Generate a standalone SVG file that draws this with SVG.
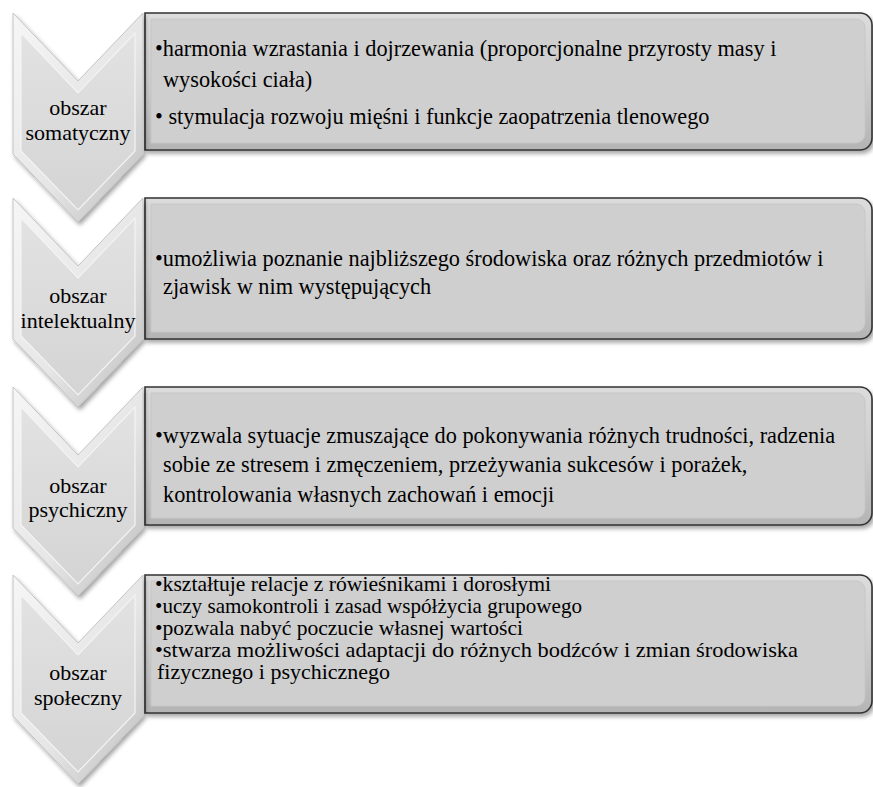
<svg xmlns="http://www.w3.org/2000/svg" width="873" height="787" viewBox="0 0 873 787">
<defs>
<linearGradient id="chevOuter" x1="0" y1="0" x2="1" y2="1">
<stop offset="0" stop-color="#f6f6f6"/>
<stop offset="0.55" stop-color="#e6e6e6"/>
<stop offset="1" stop-color="#bdbdbd"/>
</linearGradient>
<linearGradient id="chevInner" x1="0" y1="0" x2="0" y2="1">
<stop offset="0" stop-color="#e2e2e2"/>
<stop offset="1" stop-color="#d4d4d4"/>
</linearGradient>
<linearGradient id="boxOuter" x1="0" y1="0" x2="0" y2="1">
<stop offset="0" stop-color="#dcdcdc"/>
<stop offset="0.5" stop-color="#cdcdcd"/>
<stop offset="1" stop-color="#b4b4b4"/>
</linearGradient>
<filter id="shadow" x="-5%" y="-5%" width="115%" height="125%">
<feDropShadow dx="2" dy="3" stdDeviation="2" flood-color="#000" flood-opacity="0.35"/>
</filter>
<polygon id="chev" points="13,0 78,68 143,0 143,141 78,209 13,141"/>
<polygon id="chevIn" points="21,20 78,80 135,20 135,138 78,197 21,138"/>
</defs>
<style>
.cho{fill:url(#chevOuter);stroke:#c4c4c4;stroke-width:1;filter:url(#shadow)}
.chi{fill:url(#chevInner);stroke:#f4f4f4;stroke-width:1.2}
.bo{fill:url(#boxOuter);stroke:#333;stroke-width:1.6;filter:url(#shadow)}
.bi{fill:#cfcfcf;stroke:#c6c6c6;stroke-width:1}
.lab{font-family:"Liberation Serif","Times New Roman",serif;font-size:22px;fill:#000;text-anchor:middle}
.txt{font-family:"Liberation Serif","Times New Roman",serif;font-size:22.3px;fill:#000}
.sm{font-size:21px}
</style>
<rect width="873" height="787" fill="#fff"/>
<g id="connectors"></g>

<g id="box1">
<path class="bo" d="M145,13 H860 A12,12 0 0 1 872,25 V138 A12,12 0 0 1 860,150 H145 Z"/>
<path class="bi" d="M151,19 H856 A9,9 0 0 1 865,28 V134 A9,9 0 0 1 856,143 H151 Z"/>
<text class="txt" x="155" y="56">•harmonia wzrastania i dojrzewania (proporcjonalne przyrosty masy i</text>
<text class="txt" x="163" y="87">wysokości ciała)</text>
<text class="txt" x="155" y="124">• stymulacja rozwoju mięśni i funkcje zaopatrzenia tlenowego</text>
</g>
<g id="chevron1" transform="translate(0,13)">
<use href="#chev" class="cho"/>
<use href="#chevIn" class="chi"/>
<text class="lab" x="78" y="102">obszar</text>
<text class="lab" x="78" y="127">somatyczny</text>
</g>

<g id="box2">
<path class="bo" d="M145,198 H860 A12,12 0 0 1 872,210 V327 A12,12 0 0 1 860,339 H145 Z"/>
<path class="bi" d="M151,204 H856 A9,9 0 0 1 865,213 V323 A9,9 0 0 1 856,332 H151 Z"/>
<text class="txt" x="155" y="266">•umożliwia poznanie najbliższego środowiska oraz różnych przedmiotów i</text>
<text class="txt" x="163" y="294">zjawisk w nim występujących</text>
</g>
<g id="chevron2" transform="translate(0,198)">
<use href="#chev" class="cho"/>
<use href="#chevIn" class="chi"/>
<text class="lab" x="78" y="105">obszar</text>
<text class="lab" x="78" y="130">intelektualny</text>
</g>

<g id="box3">
<path class="bo" d="M145,387 H860 A12,12 0 0 1 872,399 V513 A12,12 0 0 1 860,525 H145 Z"/>
<path class="bi" d="M151,393 H856 A9,9 0 0 1 865,402 V509 A9,9 0 0 1 856,518 H151 Z"/>
<text class="txt" x="155" y="443">•wyzwala sytuacje zmuszające do pokonywania różnych trudności, radzenia</text>
<text class="txt" x="163" y="472">sobie ze stresem i zmęczeniem, przeżywania sukcesów i porażek,</text>
<text class="txt" x="163" y="502">kontrolowania własnych zachowań i emocji</text>
</g>
<g id="chevron3" transform="translate(0,387)">
<use href="#chev" class="cho"/>
<use href="#chevIn" class="chi"/>
<text class="lab" x="78" y="106">obszar</text>
<text class="lab" x="78" y="130">psychiczny</text>
</g>

<g id="box4">
<path class="bo" d="M145,575 H860 A12,12 0 0 1 872,587 V701 A12,12 0 0 1 860,713 H145 Z"/>
<path class="bi" d="M151,581 H856 A9,9 0 0 1 865,590 V697 A9,9 0 0 1 856,706 H151 Z"/>
<text class="txt sm" x="155" y="591" textLength="396" lengthAdjust="spacingAndGlyphs">•kształtuje relacje z rówieśnikami i dorosłymi</text>
<text class="txt sm" x="155" y="613" textLength="427" lengthAdjust="spacingAndGlyphs">•uczy samokontroli i zasad współżycia grupowego</text>
<text class="txt sm" x="155" y="635" textLength="368" lengthAdjust="spacingAndGlyphs">•pozwala nabyć poczucie własnej wartości</text>
<text class="txt sm" x="155" y="657" textLength="643" lengthAdjust="spacingAndGlyphs">•stwarza możliwości adaptacji do różnych bodźców i zmian środowiska</text>
<text class="txt sm" x="157" y="679" textLength="233" lengthAdjust="spacingAndGlyphs">fizycznego i psychicznego</text>
</g>
<g id="chevron4" transform="translate(0,575)">
<use href="#chev" class="cho"/>
<use href="#chevIn" class="chi"/>
<text class="lab" x="78" y="105">obszar</text>
<text class="lab" x="78" y="130">społeczny</text>
</g>
</svg>
